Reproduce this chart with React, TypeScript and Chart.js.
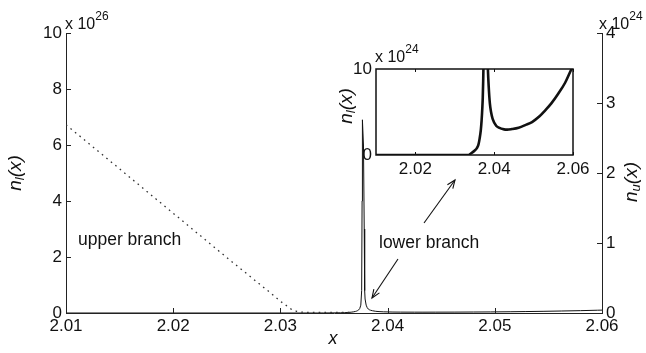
import React, { useEffect, useRef } from 'react';
import { Chart, registerables } from 'chart.js';
Chart.register(...registerables);

// ---- data ----
const xTicks = [2.01, 2.02, 2.03, 2.04, 2.05, 2.06];
const leftTicks = [0, 2, 4, 6, 8, 10];
const rightTicks = [0, 1, 2, 3, 4];
const insetXTicks = [2.02, 2.04, 2.06];
const insetYTicks = [0, 10];

// upper branch, n_l in units of 10^26
const upperX = [2.010, 2.013, 2.016, 2.019, 2.022, 2.025, 2.027, 2.029, 2.030, 2.031, 2.0315, 2.032, 2.033, 2.035, 2.0368];
const upperY = [6.72, 5.78, 4.83, 3.88, 2.93, 1.98, 1.36, 0.74, 0.42, 0.14, 0.06, 0.03, 0.02, 0.02, 0.02];

// lower branch, n_l in units of 10^24
const lowerX = [2.010, 2.030, 2.0335, 2.0340, 2.0350, 2.0356, 2.0360, 2.0363, 2.0366, 2.0368, 2.0370, 2.0371, 2.0372, 2.0373, 2.0374, 2.0375, 2.03758, 2.03762, 2.03765, 2.03775, 2.03782, 2.03786, 2.0379, 2.0380, 2.0381, 2.0382, 2.0383, 2.0384, 2.0386, 2.0389, 2.0392, 2.0396, 2.0405, 2.0412, 2.0425, 2.0433, 2.0445, 2.0462, 2.0480, 2.0496, 2.0515, 2.0529, 2.0545, 2.0562, 2.0580, 2.0596, 2.0600];
const lowerY = [0, 0, 0, 0.15, 0.5, 0.8, 1.2, 1.9, 2.9, 4.0, 5.6, 6.7, 8.5, 11, 16, 28, 80, 400, 690, 600, 300, 80, 50, 28, 19, 14, 11.5, 10, 8.0, 6.0, 5.0, 4.2, 3.4, 3.18, 2.98, 2.95, 3.02, 3.18, 3.5, 3.83, 4.5, 5.17, 6.0, 7.09, 8.4, 9.97, 10.3];

const FONT = '"Liberation Sans", Arial, Helvetica, sans-serif';
const INK = '#111';

type Part = { t: string; f: string; dy?: number };
function partsWidth(ctx: CanvasRenderingContext2D, parts: Part[]) {
  let w = 0;
  for (const p of parts) { ctx.font = p.f; w += ctx.measureText(p.t).width; }
  return w;
}
function drawParts(ctx: CanvasRenderingContext2D, parts: Part[], x: number, y: number, center: boolean) {
  let cx = center ? x - partsWidth(ctx, parts) / 2 : x;
  ctx.textAlign = 'left';
  for (const p of parts) {
    ctx.font = p.f;
    ctx.fillText(p.t, cx, y + (p.dy || 0));
    cx += ctx.measureText(p.t).width;
  }
}
function drawRotated(ctx: CanvasRenderingContext2D, parts: Part[], cx: number, cy: number) {
  ctx.save();
  ctx.translate(cx, cy);
  ctx.rotate(-Math.PI / 2);
  ctx.textBaseline = 'middle';
  drawParts(ctx, parts, 0, 0, true);
  ctx.restore();
}
function arrow(ctx: CanvasRenderingContext2D, x1: number, y1: number, x2: number, y2: number) {
  const ang = Math.atan2(y2 - y1, x2 - x1);
  const L = 9, w = 0.38;
  ctx.beginPath();
  ctx.moveTo(x1, y1); ctx.lineTo(x2, y2);
  ctx.stroke();
  ctx.beginPath();
  ctx.moveTo(x2 - L * Math.cos(ang - w), y2 - L * Math.sin(ang - w));
  ctx.lineTo(x2, y2);
  ctx.lineTo(x2 - L * Math.cos(ang + w), y2 - L * Math.sin(ang + w));
  ctx.stroke();
}
const label = (s: string, sub: string): Part[] => [
  { t: s, f: `italic 19px ${FONT}` },
  { t: sub, f: `italic 13px ${FONT}`, dy: 4 },
  { t: '(x)', f: `italic 19px ${FONT}` },
];
const mult = (e: string): Part[] => [
  { t: 'x 10', f: `16px ${FONT}` },
  { t: e, f: `12px ${FONT}`, dy: -9 },
];

const mainDecor = {
  id: 'mainDecor',
  afterDraw(chart: any) {
    const { ctx, chartArea: a, scales } = chart;
    ctx.save();
    ctx.strokeStyle = '#222';
    ctx.lineWidth = 1;
    ctx.beginPath();
    xTicks.forEach((v) => {
      const p = Math.round(scales.x.getPixelForValue(v)) + 0.5;
      ctx.moveTo(p, a.bottom); ctx.lineTo(p, a.bottom - 5);
    });
    leftTicks.forEach((v) => {
      const p = Math.round(scales.y.getPixelForValue(v)) + 0.5;
      ctx.moveTo(a.left, p); ctx.lineTo(a.left + 5, p);
    });
    rightTicks.forEach((v) => {
      const p = Math.round(scales.y2.getPixelForValue(v)) + 0.5;
      ctx.moveTo(a.right, p); ctx.lineTo(a.right - 5, p);
    });
    ctx.stroke();

    ctx.fillStyle = INK;
    ctx.textBaseline = 'alphabetic';
    drawParts(ctx, mult('26'), 65, 29, false);
    drawParts(ctx, mult('24'), 599, 29, false);
    drawParts(ctx, mult('24'), 375, 62, false);

    drawRotated(ctx, label('n', 'l'), 16, 173);
    drawRotated(ctx, label('n', 'u'), 632, 182);
    drawRotated(ctx, label('n', 'l'), 347, 106);

    ctx.textBaseline = 'middle';
    ctx.font = `italic 18px ${FONT}`;
    ctx.textAlign = 'center';
    ctx.fillText('x', 333, 339);

    ctx.textAlign = 'left';
    ctx.font = `17.5px ${FONT}`;
    ctx.fillText('upper branch', 78, 240);
    ctx.fillText('lower branch', 379, 243);

    ctx.strokeStyle = '#111';
    ctx.lineWidth = 1.1;
    arrow(ctx, 424, 223, 455, 180);
    arrow(ctx, 398, 259, 372, 298);
    ctx.restore();
  },
};

const insetDecor = {
  id: 'insetDecor',
  afterDraw(chart: any) {
    const { ctx, chartArea: a, scales } = chart;
    ctx.save();
    ctx.strokeStyle = '#111';
    ctx.lineWidth = 1.5;
    ctx.strokeRect(a.left, a.top, a.right - a.left, a.bottom - a.top);
    ctx.lineWidth = 1;
    ctx.beginPath();
    insetXTicks.forEach((v) => {
      const p = Math.round(scales.x.getPixelForValue(v)) + 0.5;
      ctx.moveTo(p, a.bottom); ctx.lineTo(p, a.bottom - 3);
      ctx.moveTo(p, a.top); ctx.lineTo(p, a.top + 3);
    });
    ctx.stroke();
    ctx.restore();
  },
};

const tickFont = { family: FONT, size: 17 };

export default function App() {
  const mainRef = useRef<HTMLCanvasElement>(null);
  const insetRef = useRef<HTMLCanvasElement>(null);

  useEffect(() => {
    const setTicks = (vals: number[]) => (s: any) => { s.ticks = vals.map((v) => ({ value: v })); };
    const main = new Chart(mainRef.current!, {
      type: 'line',
      data: {
        datasets: [
          {
            data: upperX.map((x, i) => ({ x, y: upperY[i] })),
            borderColor: '#333',
            borderWidth: 1.3,
            borderDash: [1.6, 4.2],
            pointRadius: 0,
            yAxisID: 'y',
          },
          {
            data: lowerX.map((x, i) => ({ x, y: lowerY[i] / 100 })),
            borderColor: '#111',
            borderWidth: 1,
            pointRadius: 0,
            yAxisID: 'y',
          },
        ],
      },
      options: {
        responsive: false,
        animation: false,
        layout: { padding: { top: 33, left: 0, right: 0, bottom: 0 } },
        plugins: { legend: { display: false }, tooltip: { enabled: false } },
        scales: {
          x: {
            type: 'linear', min: 2.01, max: 2.06,
            afterBuildTicks: setTicks(xTicks),
            afterFit: (s: any) => { s.height = 40; },
            grid: { display: false, drawTicks: false },
            border: { display: true, color: '#222', width: 1 },
            ticks: { padding: 3, font: tickFont, color: INK, maxRotation: 0, autoSkip: false, callback: (v: any) => Number(v).toFixed(2) },
          },
          y: {
            position: 'left', min: 0, max: 10,
            afterBuildTicks: setTicks(leftTicks),
            afterFit: (s: any) => { s.width = 66; },
            grid: { display: false, drawTicks: false },
            border: { display: true, color: '#222', width: 1 },
            ticks: { padding: 4, font: tickFont, color: INK, callback: (v: any) => String(v) },
          },
          y2: {
            position: 'right', min: 0, max: 4,
            afterBuildTicks: setTicks(rightTicks),
            afterFit: (s: any) => { s.width = 44; },
            grid: { display: false, drawTicks: false },
            border: { display: true, color: '#222', width: 1 },
            ticks: { padding: 4, font: tickFont, color: INK, callback: (v: any) => String(v) },
          },
        },
      } as any,
      plugins: [mainDecor],
    });

    const inset = new Chart(insetRef.current!, {
      type: 'line',
      data: {
        datasets: [
          {
            data: lowerX.map((x, i) => ({ x, y: lowerY[i] })),
            borderColor: '#111',
            borderWidth: 2.6,
            pointRadius: 0,
            cubicInterpolationMode: 'monotone',
          },
        ],
      },
      options: {
        responsive: false,
        animation: false,
        layout: { padding: { top: 34, left: 0, right: 27, bottom: 0 } },
        plugins: { legend: { display: false }, tooltip: { enabled: false } },
        scales: {
          x: {
            type: 'linear', min: 2.01, max: 2.06,
            afterBuildTicks: setTicks(insetXTicks),
            afterFit: (s: any) => { s.height = 30; },
            grid: { display: false, drawTicks: false },
            border: { display: false },
            ticks: { padding: 4, font: tickFont, color: INK, maxRotation: 0, autoSkip: false, callback: (v: any) => Number(v).toFixed(2) },
          },
          y: {
            min: 0, max: 10,
            afterBuildTicks: setTicks(insetYTicks),
            afterFit: (s: any) => { s.width = 51; },
            grid: { display: false, drawTicks: false },
            border: { display: false },
            ticks: { padding: 4, font: tickFont, color: INK, callback: (v: any) => String(v) },
          },
        },
      } as any,
      plugins: [insetDecor],
    });

    return () => { main.destroy(); inset.destroy(); };
  }, []);

  return (
    <div style={{ position: 'fixed', left: 0, top: 0, width: 646, height: 353, background: '#fff' }}>
      <canvas ref={mainRef} width={646} height={353} style={{ position: 'absolute', left: 0, top: 0, width: 646, height: 353 }} />
      <canvas ref={insetRef} width={275} height={150} style={{ position: 'absolute', left: 325, top: 35, width: 275, height: 150 }} />
    </div>
  );
}
